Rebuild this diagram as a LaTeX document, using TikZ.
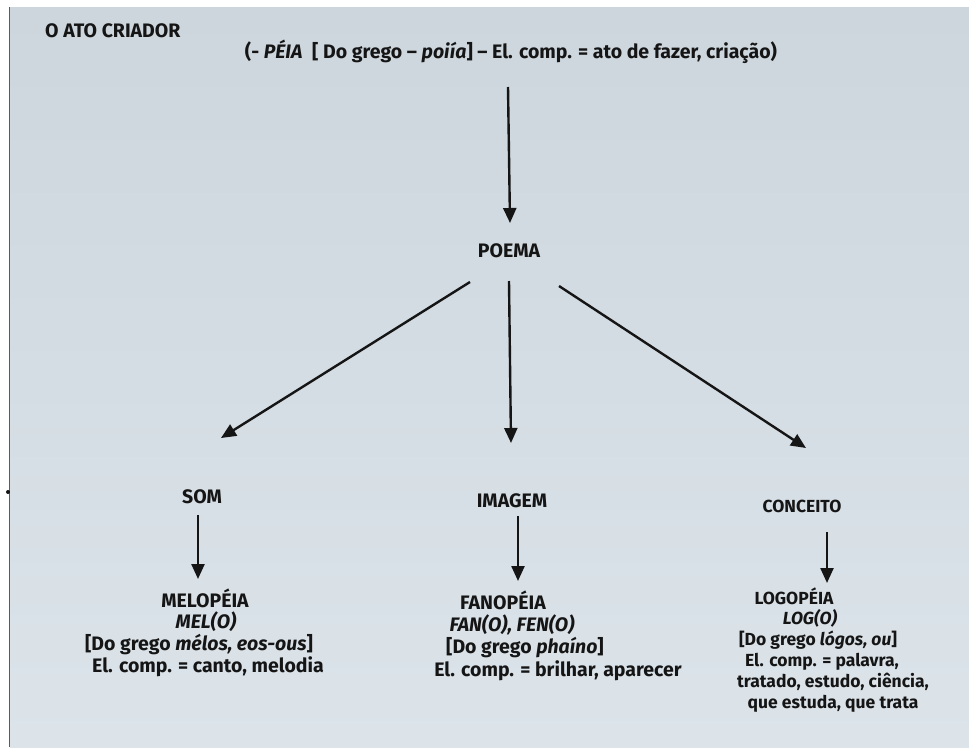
\documentclass[tikz,border=0pt]{standalone}
\usepackage{fontspec}
\setmainfont{Fira Sans}
\usetikzlibrary{arrows.meta}
\definecolor{pagetop}{HTML}{CDD6DD}
\definecolor{pagebot}{HTML}{DCE4EA}
\definecolor{ink}{HTML}{151515}
\tikzset{
  txt/.style={inner sep=0pt, anchor=base, text=ink, font=\fontsize{19.5}{22}\selectfont\bfseries},
  txtsm/.style={txt, font=\fontsize{17.5}{20}\selectfont\bfseries},
  arr/.style={draw=ink, line width=2.4pt, -{Triangle[length=15pt,width=13pt]}},
}
\begin{document}
\begin{tikzpicture}[x=1pt,y=-1pt]
\useasboundingbox (0,0) rectangle (969,747);
\fill[white] (0,0) rectangle (969,747);
\shade[top color=pagetop, bottom color=pagebot] (10,7) rectangle (969,747);
\draw[line width=1.2pt, draw=ink!70] (9.5,7) -- (9.5,747);
\fill[ink] (8,492) circle (2);

% top
\node[txt, anchor=base west] (title) at (45,37) {O ATO CRIADOR};
\node[txt] (peia) at (511,58) {(- \textit{PÉIA}\enspace[ Do grego – \textit{poiía}] – El. comp. = ato de fazer, criação)};
\node[txt] (poema) at (509,257) {POEMA};

% middle level
\node[txt] (som) at (202,503) {SOM};
\node[txt] (imagem) at (512,507) {IMAGEM};
\node[txtsm] (conceito) at (802,512) {CONCEITO};

% bottom blocks
\node[txt] (melo) at (205,607) {MELOPÉIA};
\node[txt] (melo2) at (206,628) {\textit{MEL(O)}};
\node[txt] (melo3) at (199,650) {[Do grego \textit{mélos, eos-ous}]};
\node[txt] (melo4) at (208,672) {El. comp. = canto, melodia};

\node[txt] (fano) at (503,609) {FANOPÉIA};
\node[txt] (fano2) at (512,631) {\textit{FAN(O), FEN(O)}};
\node[txt] (fano3) at (525,653) {[Do grego \textit{phaíno}]};
\node[txt] (fano4) at (558,676) {El. comp. = brilhar, aparecer};

\node[txtsm] (logo) at (794,604) {LOGOPÉIA};
\node[txtsm] (logo2) at (810,624) {\textit{LOG(O)}};
\node[txtsm] (logo3) at (818,645) {[Do grego \textit{lógos, ou}]};
\node[txtsm] (logo4) at (822,666) {El. comp. = palavra,};
\node[txtsm] (logo5) at (833,687) {tratado, estudo, ciência,};
\node[txtsm] (logo6) at (833,708) {que estuda, que trata};

% connector end points
\coordinate (a0) at (508,87);   \coordinate (a1) at (510,223);
\coordinate (b0) at (470,282);  \coordinate (b1) at (221,438);
\coordinate (c0) at (509,281);  \coordinate (c1) at (511,443);
\coordinate (d0) at (559,286);  \coordinate (d1) at (806,448);
\coordinate (e0) at (198,515);  \coordinate (e1) at (198,579);
\coordinate (f0) at (518,516);  \coordinate (f1) at (518,581);
\coordinate (g0) at (827,532);  \coordinate (g1) at (827,583);

\draw[arr] (a0) -- (a1);
\draw[arr] (b0) -- (b1);
\draw[arr] (c0) -- (c1);
\draw[arr] (d0) -- (d1);
\draw[arr] (e0) -- (e1);
\draw[arr] (f0) -- (f1);
\draw[arr] (g0) -- (g1);
\end{tikzpicture}
\end{document}
